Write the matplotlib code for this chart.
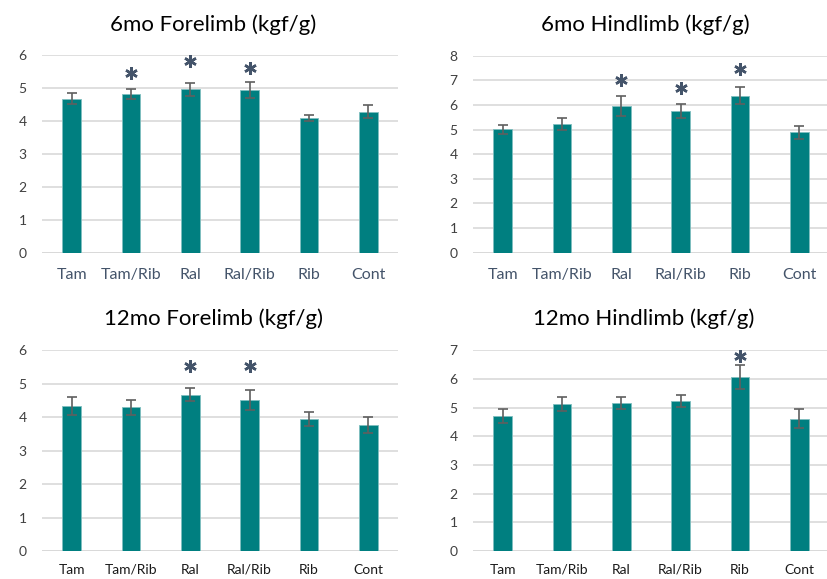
import matplotlib
matplotlib.use("Agg")
import matplotlib.pyplot as plt
import numpy as np

plt.rcParams['font.family'] = ['Lato', 'DejaVu Sans']

categories = ["Tam", "Tam/Rib", "Ral", "Ral/Rib", "Rib", "Cont"]

titles = ["6mo Forelimb (kgf/g)", "6mo Hindlimb (kgf/g)",
          "12mo Forelimb (kgf/g)", "12mo Hindlimb (kgf/g)"]

fore6_mean = [4.67, 4.82, 4.96, 4.94, 4.09, 4.28]
fore6_err = [0.17, 0.16, 0.20, 0.24, 0.09, 0.19]
fore6_star = [None, 5.46, 5.82, 5.61, None, None]

hind6_mean = [5.01, 5.22, 5.96, 5.76, 6.37, 4.89]
hind6_err = [0.18, 0.24, 0.42, 0.27, 0.35, 0.27]
hind6_star = [None, None, 7.02, 6.68, 7.47, None]

fore12_mean = [4.33, 4.30, 4.67, 4.51, 3.95, 3.77]
fore12_err = [0.26, 0.22, 0.20, 0.29, 0.21, 0.24]
fore12_star = [None, None, 5.54, 5.54, None, None]

hind12_mean = [4.71, 5.13, 5.16, 5.23, 6.06, 4.61]
hind12_err = [0.23, 0.25, 0.22, 0.22, 0.42, 0.33]
hind12_star = [None, None, None, None, 6.81, None]

ymaxes = [6, 8, 6, 7]

means = [fore6_mean, hind6_mean, fore12_mean, hind12_mean]
errs = [fore6_err, hind6_err, fore12_err, hind12_err]
stars = [fore6_star, hind6_star, fore12_star, hind12_star]

W, H = 828, 579
fig = plt.figure(figsize=(W / 100, H / 100), dpi=100)

# axes rectangles in pixels: left, top(ymax), right, bottom(0)
rects = [(42, 55, 398, 252.7),
         (473, 55.7, 829, 252.7),
         (42, 350.3, 398, 551),
         (473, 350.3, 829, 551)]
title_pos = [(213, 25), (645, 25), (214, 319), (644, 319)]

bar_color = "#007F80"
edge_color = "#7FBFBF"
err_color = "#5F5F5F"
star_color = "#44546A"
grid_color = "#D9D9D9"

for i in range(4):
    l, t, r, b = rects[i]
    ax = fig.add_axes([l / W, 1 - b / H, (r - l) / W, (b - t) / H])
    x = np.arange(len(categories))
    ax.bar(x, means[i], width=0.32, color=bar_color, edgecolor=edge_color,
           linewidth=0.6, zorder=3)
    ax.errorbar(x, means[i], yerr=errs[i], fmt='none', ecolor=err_color,
                elinewidth=1.2, capsize=3.5, capthick=1.2, zorder=4)
    for xi, s in zip(x, stars[i]):
        if s is not None:
            ax.plot([xi], [s], marker=(6, 2, 0), markersize=9,
                    markeredgewidth=1.8, color=star_color, zorder=5,
                    clip_on=False)
    ax.set_xlim(-0.5, len(categories) - 0.5)
    ax.set_ylim(0, ymaxes[i])
    ax.set_yticks(range(0, ymaxes[i] + 1))
    ax.yaxis.grid(True, color=grid_color, linewidth=1.2, zorder=0)
    ax.set_axisbelow(True)
    for sp in ax.spines.values():
        sp.set_visible(False)
    ax.axhline(0, color=grid_color, linewidth=1.4, zorder=2)
    ax.set_xticks(x)
    if i < 2:
        ax.set_xticklabels(categories, fontsize=11.5, color=star_color)
        ax.tick_params(axis='x', length=0, pad=11)
    else:
        ax.set_xticklabels(categories, fontsize=10, color="#1A1A1A")
        ax.tick_params(axis='x', length=0, pad=9)
    ax.tick_params(axis='y', length=0, pad=11, labelsize=10,
                   labelcolor="#404040")
    ax.set_facecolor("white")
    fig.text(title_pos[i][0] / W, 1 - title_pos[i][1] / H, titles[i],
             ha='center', va='center', fontsize=16, color="#000000")

fig.savefig("out.png", dpi=100, facecolor="white")
